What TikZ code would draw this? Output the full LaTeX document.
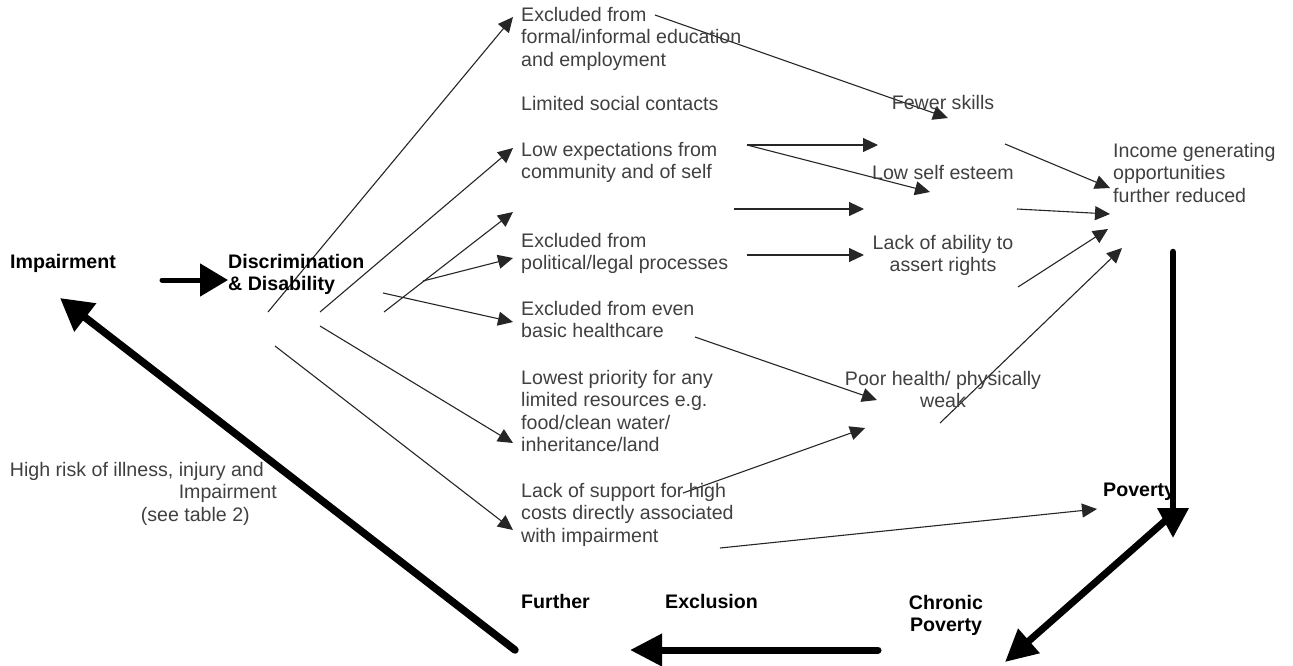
\documentclass[tikz,border=0pt]{standalone}
\usepackage{fontspec}
\setmainfont{Liberation Sans}
\usetikzlibrary{arrows.meta}
\pgfdeclarelayer{bg}
\pgfsetlayers{bg,main}

\tikzset{
        txt/.style={anchor=base west, inner sep=0pt, align=left, text=black!75,
                font=\fontsize{19.6}{22.5}\selectfont},
        ctxt/.style={txt, anchor=base, align=center},
        bold/.style={txt, text=black, font=\fontsize{19.6}{22.5}\selectfont\bfseries},
        link/.style={line width=1.1pt, black!85, -{Triangle[length=15pt,width=14pt]}},
        bigarrow/.style={line width=7pt, line cap=round, -{Triangle[length=32pt,width=31pt]}}
}

\begin{document}
\begin{tikzpicture}[x=1pt, y=-1pt]
        \useasboundingbox (0,0) rectangle (1293,665);
        % multi-line texts sit on the baseline of their last line
        \node (impair) [bold] at (10, 268) {Impairment};
        \node (discr) [bold] at (228, 290.5) {Discrimination\\\& Disability};
        \node (edu) [txt] at (521, 66) {Excluded from\\formal/informal education\\and employment};
        \node (social) [txt] at (521, 110) {Limited social contacts};
        \node (expect) [txt] at (521, 178.5) {Low expectations from\\community and of self};
        \node (legal) [txt] at (521, 269.5) {Excluded from\\political/legal processes};
        \node (care) [txt] at (521, 337.5) {Excluded from even\\basic healthcare};
        \node (prio) [txt] at (521, 451.5) {Lowest priority for any\\limited resources e.g.\\food/clean water/\\inheritance/land};
        \node (costs) [txt] at (521, 542) {Lack of support for high\\costs directly associated\\with impairment};
        \node (skills) [ctxt] at (943, 109) {Fewer skills};
        \node (esteem) [ctxt] at (943, 179) {Low self esteem};
        \node (rights) [ctxt] at (943, 271.5) {Lack of ability to\\assert rights};
        \node (health) [ctxt] at (943, 407.5) {Poor health/ physically\\weak};
        \node (income) [txt] at (1113, 202) {Income generating\\opportunities\\further reduced};
        \node (poverty) [bold] at (1103, 496) {Poverty};
        \node (chronic) [bold, anchor=base, align=center] at (946, 631.5) {Chronic\\Poverty};
        \node (further) [bold] at (521, 608) {Further};
        \node (exclusion) [bold] at (665, 608) {Exclusion};
        \node (risk) [txt, anchor=base east, align=right] at (277, 521)
                {High risk of illness, injury and\hspace*{13pt}\\Impairment\\(see table 2)\hspace*{27pt}};

        % ends of the connectors
        \coordinate (d1) at (268, 312);  \coordinate (d1e) at (513, 17);
        \coordinate (d2) at (320, 312);  \coordinate (d2e) at (513, 148);
        \coordinate (d3) at (384, 312);  \coordinate (d3e) at (513, 212);
        \coordinate (d4) at (423, 281);  \coordinate (d4e) at (513, 258);
        \coordinate (d5) at (383, 293);  \coordinate (d5e) at (513, 322);
        \coordinate (d6) at (320, 326);  \coordinate (d6e) at (513, 443);
        \coordinate (d7) at (275, 346);  \coordinate (d7e) at (513, 530);
        \coordinate (m1) at (655, 15);   \coordinate (m1e) at (948, 118);
        \coordinate (m2) at (747, 145);  \coordinate (m2e) at (878, 145);
                                         \coordinate (m3e) at (930, 192);
        \coordinate (m4) at (734, 209);  \coordinate (m4e) at (864, 209);
        \coordinate (m5) at (747, 255);  \coordinate (m5e) at (864, 255);
        \coordinate (m6) at (695, 337);  \coordinate (m6e) at (877, 400);
        \coordinate (m7) at (683, 493);  \coordinate (m7e) at (865, 428);
        \coordinate (m8) at (720, 548);  \coordinate (m8e) at (1097, 509);
        \coordinate (r1) at (1005, 144); \coordinate (r1e) at (1110, 188);
        \coordinate (r2) at (1017, 209); \coordinate (r2e) at (1110, 214);
        \coordinate (r3) at (1018, 287); \coordinate (r3e) at (1108, 229);
        \coordinate (r4) at (940, 423);  \coordinate (r4e) at (1122, 248);
        \coordinate (k1) at (162, 280);  \coordinate (k1e) at (228, 280);
        \coordinate (k2) at (1173, 252); \coordinate (k2e) at (1173, 538);
        \coordinate (k3) at (1166, 520); \coordinate (k3e) at (1005, 662);
        \coordinate (k4) at (878, 650);  \coordinate (k4e) at (630, 650);
        \coordinate (k5) at (515, 650);  \coordinate (k5e) at (60, 298);

        \begin{pgfonlayer}{bg}
                \draw (d1) edge [link] (d1e);
                \draw (d2) edge [link] (d2e);
                \draw (d3) edge [link] (d3e);
                \draw (d4) edge [link] (d4e);
                \draw (d5) edge [link] (d5e);
                \draw (d6) edge [link] (d6e);
                \draw (d7) edge [link] (d7e);
                \draw (m1) edge [link] (m1e);
                \draw (m2) edge [link] (m2e);
                \draw (m2) edge [link] (m3e);
                \draw (m4) edge [link] (m4e);
                \draw (m5) edge [link] (m5e);
                \draw (m6) edge [link] (m6e);
                \draw (m7) edge [link] (m7e);
                \draw (m8) edge [link] (m8e);
                \draw (r1) edge [link] (r1e);
                \draw (r2) edge [link] (r2e);
                \draw (r3) edge [link] (r3e);
                \draw (r4) edge [link] (r4e);
                \draw (k1) edge [bigarrow, line width=5pt, -{Triangle[length=28pt,width=32pt]}] (k1e);
                \draw (k2) edge [bigarrow, line width=6.5pt, -{Triangle[length=30pt,width=30pt]}] (k2e);
                \draw (k3) edge [bigarrow] (k3e);
                \draw (k4) edge [bigarrow] (k4e);
                \draw (k5) edge [bigarrow, line width=7.5pt, -{Triangle[length=32pt,width=34pt]}] (k5e);
        \end{pgfonlayer}
\end{tikzpicture}
\end{document}
